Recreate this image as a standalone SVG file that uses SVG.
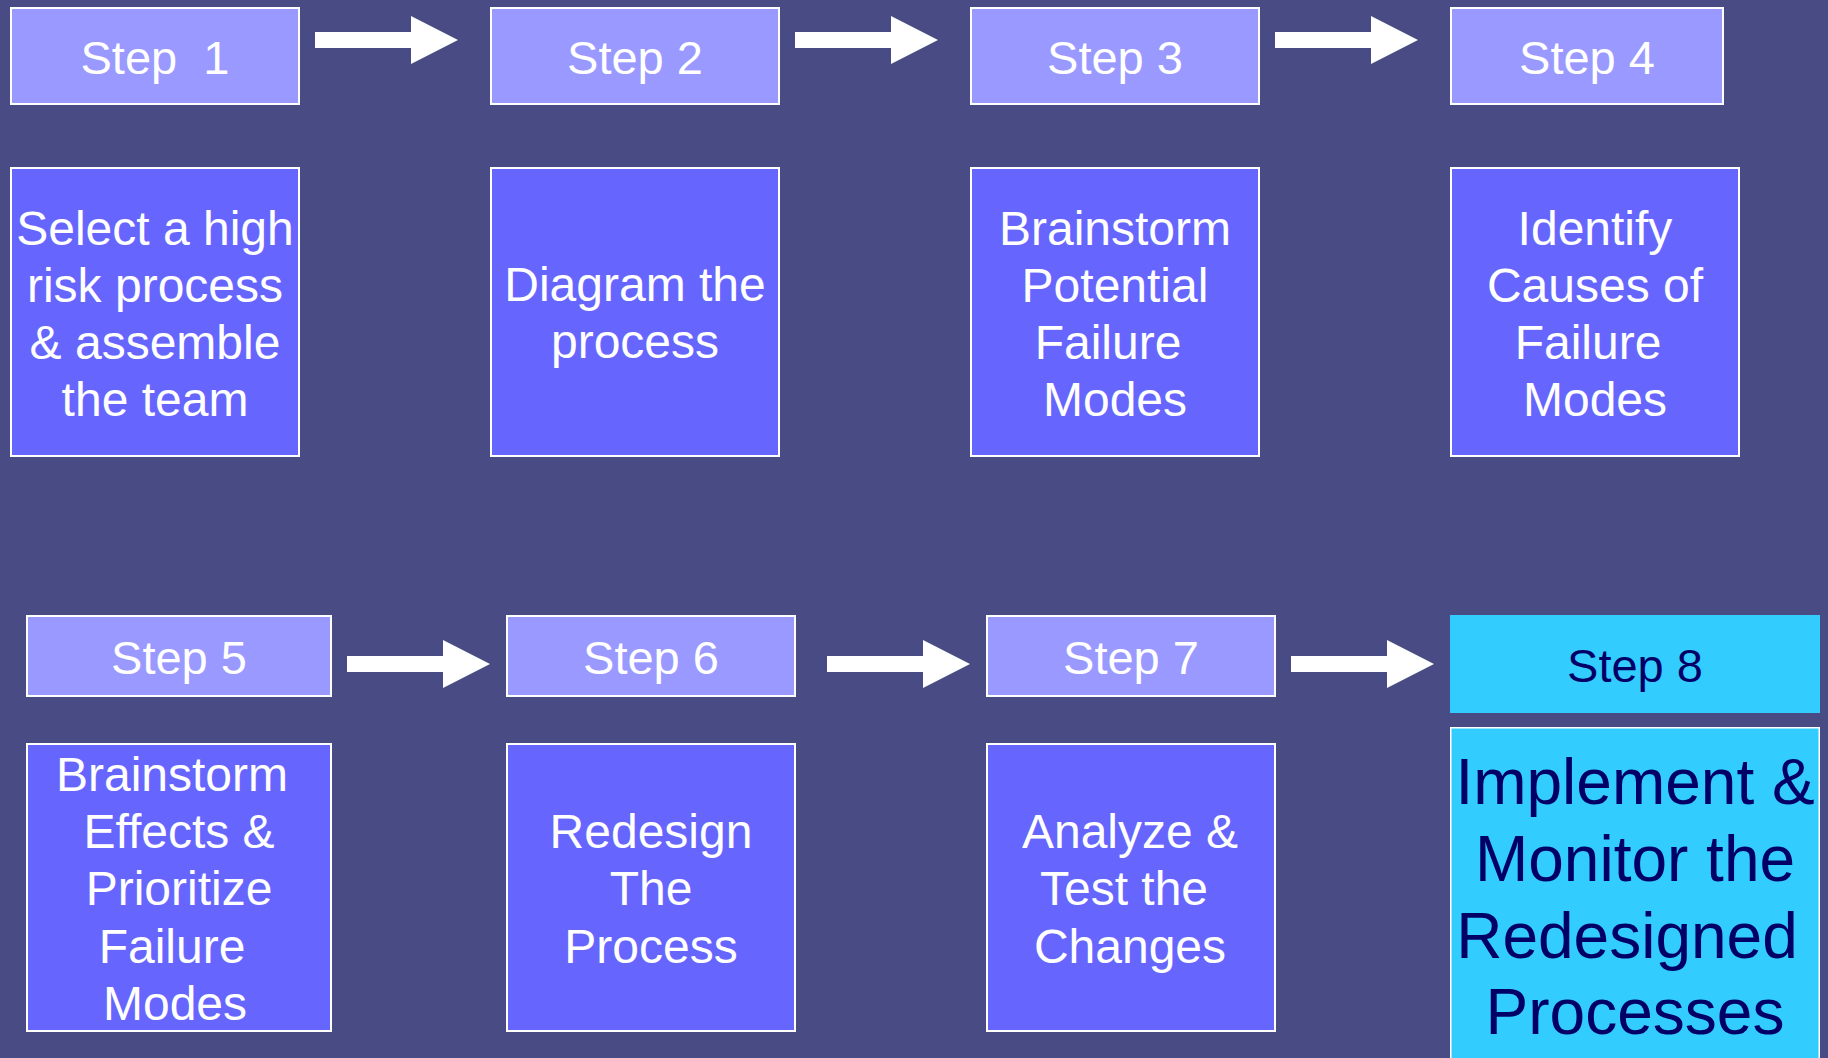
<svg xmlns="http://www.w3.org/2000/svg" xmlns:xlink="http://www.w3.org/1999/xlink" width="1828" height="1058" viewBox="0 0 1828 1058">
  <style>
    .bg { fill: #494C84; }
    .label { fill: #9999FF; stroke: #FFFFFF; stroke-width: 2; }
    .desc { fill: #6666FF; stroke: #FFFFFF; stroke-width: 2; }
    .final-label { fill: #33CCFF; }
    .final-desc { fill: #33CCFF; stroke: #FFFFFF; stroke-width: 1.5; }
    text { font-family: "Liberation Sans", Arial, sans-serif; text-anchor: middle; }
    .t-label { fill: #FFFFFF; font-size: 47px; white-space: pre; }
    .t-desc { fill: #FFFFFF; font-size: 48px; }
    .t-final-label { fill: #000066; font-size: 47px; }
    .t-final-desc { fill: #000066; font-size: 64px; }
    .arrow { fill: #FFFFFF; }
  </style>
  <defs>
    <!-- block arrow: 96px shaft, 47px head, tip at (143, 24) -->
    <path id="blockArrow" class="arrow" d="M0,16 H96 V0 L143,24 L96,48 V32 H0 Z"/>
  </defs>

  <rect class="bg" x="0" y="0" width="1828" height="1058"/>

  <!-- Row 1 -->
  <g id="step1">
    <rect class="label" x="11" y="8" width="288" height="96"/>
    <text class="t-label" x="155" y="74" xml:space="preserve">Step  1</text>
    <rect class="desc" x="11" y="168" width="288" height="288"/>
    <text class="t-desc" x="155" y="245">Select a high</text>
    <text class="t-desc" x="155" y="302">risk process</text>
    <text class="t-desc" x="155" y="359">&amp; assemble</text>
    <text class="t-desc" x="155" y="416">the team</text>
  </g>

  <g id="step2">
    <rect class="label" x="491" y="8" width="288" height="96"/>
    <text class="t-label" x="635" y="74">Step 2</text>
    <rect class="desc" x="491" y="168" width="288" height="288"/>
    <text class="t-desc" x="635" y="301">Diagram the</text>
    <text class="t-desc" x="635" y="358">process</text>
  </g>

  <g id="step3">
    <rect class="label" x="971" y="8" width="288" height="96"/>
    <text class="t-label" x="1115" y="74">Step 3</text>
    <rect class="desc" x="971" y="168" width="288" height="288"/>
    <text class="t-desc" x="1115" y="245">Brainstorm</text>
    <text class="t-desc" x="1115" y="302">Potential</text>
    <text class="t-desc" x="1108" y="359">Failure</text>
    <text class="t-desc" x="1115" y="416">Modes</text>
  </g>

  <g id="step4">
    <rect class="label" x="1451" y="8" width="272" height="96"/>
    <text class="t-label" x="1587" y="74">Step 4</text>
    <rect class="desc" x="1451" y="168" width="288" height="288"/>
    <text class="t-desc" x="1595" y="245">Identify</text>
    <text class="t-desc" x="1595" y="302">Causes of</text>
    <text class="t-desc" x="1588" y="359">Failure</text>
    <text class="t-desc" x="1595" y="416">Modes</text>
  </g>

  <!-- Row 2 -->
  <g id="step5">
    <rect class="label" x="27" y="616" width="304" height="80"/>
    <text class="t-label" x="179" y="674">Step 5</text>
    <rect class="desc" x="27" y="744" width="304" height="287"/>
    <text class="t-desc" x="172" y="791">Brainstorm</text>
    <text class="t-desc" x="179" y="848">Effects &amp;</text>
    <text class="t-desc" x="179" y="905">Prioritize</text>
    <text class="t-desc" x="172" y="963">Failure</text>
    <text class="t-desc" x="175" y="1020">Modes</text>
  </g>

  <g id="step6">
    <rect class="label" x="507" y="616" width="288" height="80"/>
    <text class="t-label" x="651" y="674">Step 6</text>
    <rect class="desc" x="507" y="744" width="288" height="287"/>
    <text class="t-desc" x="651" y="848">Redesign</text>
    <text class="t-desc" x="651" y="905">The</text>
    <text class="t-desc" x="651" y="963">Process</text>
  </g>

  <g id="step7">
    <rect class="label" x="987" y="616" width="288" height="80"/>
    <text class="t-label" x="1131" y="674">Step 7</text>
    <rect class="desc" x="987" y="744" width="288" height="287"/>
    <text class="t-desc" x="1130" y="848">Analyze &amp;</text>
    <text class="t-desc" x="1124" y="905">Test the</text>
    <text class="t-desc" x="1130" y="963">Changes</text>
  </g>

  <g id="step8">
    <rect class="final-label" x="1450" y="615" width="370" height="98"/>
    <text class="t-final-label" x="1635" y="682">Step 8</text>
    <rect class="final-desc" x="1450.75" y="727.75" width="368.5" height="340"/>
    <text class="t-final-desc" x="1635" y="804">Implement &amp;</text>
    <text class="t-final-desc" x="1635" y="881">Monitor the</text>
    <text class="t-final-desc" x="1627" y="958">Redesigned</text>
    <text class="t-final-desc" x="1635" y="1034">Processes</text>
  </g>

  <!-- Connectors -->
  <g id="connectors">
    <use xlink:href="#blockArrow" href="#blockArrow" x="315" y="16"/>
    <use xlink:href="#blockArrow" href="#blockArrow" x="795" y="16"/>
    <use xlink:href="#blockArrow" href="#blockArrow" x="1275" y="16"/>
    <use xlink:href="#blockArrow" href="#blockArrow" x="347" y="640"/>
    <use xlink:href="#blockArrow" href="#blockArrow" x="827" y="640"/>
    <use xlink:href="#blockArrow" href="#blockArrow" x="1291" y="640"/>
  </g>
</svg>
